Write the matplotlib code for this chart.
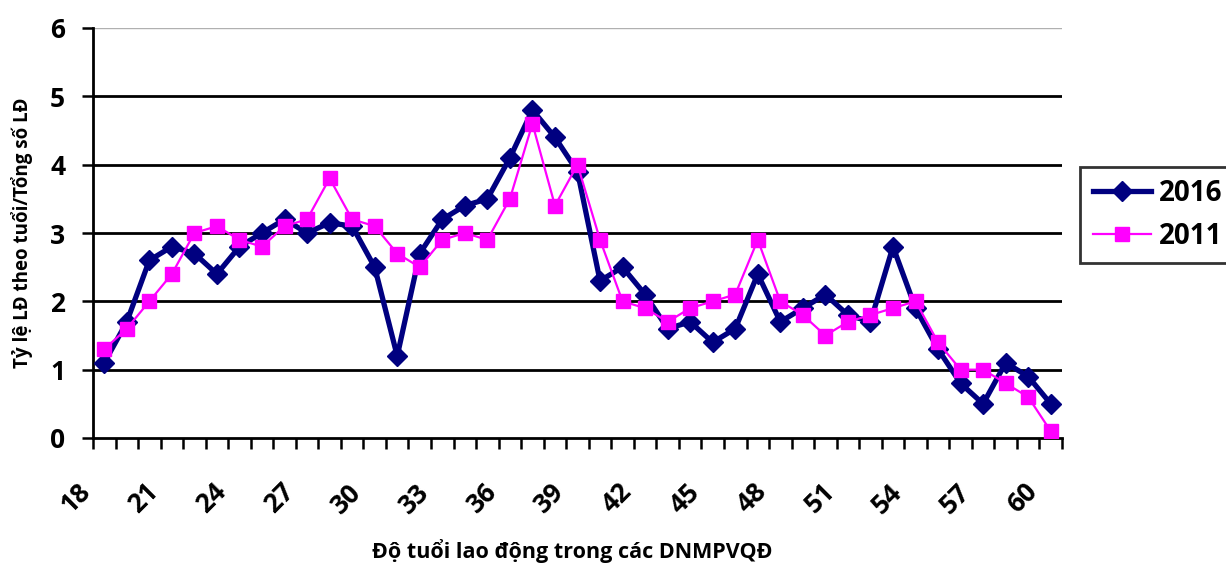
import matplotlib
matplotlib.use("Agg")
import matplotlib.pyplot as plt
import matplotlib.transforms as mtransforms
from matplotlib.ticker import FixedLocator, NullFormatter

# Ages of workers (categories) and share of workers per age (%)
ages = list(range(18, 61))
share_2016 = [1.1, 1.7, 2.6, 2.8, 2.7, 2.4, 2.8, 3.0, 3.2, 3.0,
              3.15, 3.1, 2.5, 1.2, 2.7, 3.2, 3.4, 3.5, 4.1, 4.8,
              4.4, 3.9, 2.3, 2.5, 2.1, 1.6, 1.7, 1.4, 1.6, 2.4,
              1.7, 1.9, 2.1, 1.8, 1.7, 2.8, 1.9, 1.3, 0.8, 0.5,
              1.1, 0.9, 0.5]
share_2011 = [1.3, 1.6, 2.0, 2.4, 3.0, 3.1, 2.9, 2.8, 3.1, 3.2,
              3.8, 3.2, 3.1, 2.7, 2.5, 2.9, 3.0, 2.9, 3.5, 4.6,
              3.4, 4.0, 2.9, 2.0, 1.9, 1.7, 1.9, 2.0, 2.1, 2.9,
              2.0, 1.8, 1.5, 1.7, 1.8, 1.9, 2.0, 1.4, 1.0, 1.0,
              0.8, 0.6, 0.1]
y_ticks = [0, 1, 2, 3, 4, 5, 6]
x_label_step = 3

FONT = ["Open Sans", "DejaVu Sans"]
plt.rcParams["font.family"] = FONT
plt.rcParams["font.weight"] = "bold"

W, H = 1226, 564
fig = plt.figure(figsize=(W / 100, H / 100), dpi=100)
ax = fig.add_axes([93 / W, 1 - 438 / H, (1062 - 93) / W, (438 - 28) / H])

x = list(range(len(ages)))

# horizontal gridlines
for v in y_ticks[1:-1]:
    ax.axhline(v, color="black", lw=2.0, zorder=1)
ax.axhline(y_ticks[-1], color="#b0b0b0", lw=1.0, zorder=1)

ax.plot(x, share_2016, color="#000080", lw=3.8, marker="D", markersize=10,
        markerfacecolor="#000080", markeredgecolor="#000080", label="2016", zorder=3)
ax.plot(x, share_2011, color="#FF00FF", lw=1.6, marker="s", markersize=10.5,
        markerfacecolor="#FF00FF", markeredgecolor="#FF00FF", label="2011", zorder=4)

ax.set_xlim(-0.5, len(ages) - 0.5)
ax.set_ylim(0, 6)

for side in ("top", "right"):
    ax.spines[side].set_visible(False)
for side in ("left", "bottom"):
    ax.spines[side].set_linewidth(2.0)
    ax.spines[side].set_color("black")

# y axis
ax.set_yticks(y_ticks)
ax.set_yticklabels([str(v) for v in y_ticks], fontsize=19, fontweight="bold")
ax.tick_params(axis="y", length=8, width=1.8, direction="out", pad=12)

# x axis: tick marks between categories, labels every third age
label_pos = x[::x_label_step]
ax.set_xticks(label_pos)
ax.set_xticklabels([str(ages[i]) for i in label_pos], fontsize=19, fontweight="bold",
                   rotation=45, ha="right", va="top", rotation_mode="anchor")
ax.tick_params(axis="x", which="major", length=0, pad=29)
shift = mtransforms.ScaledTranslation(-27 / 100, 0, fig.dpi_scale_trans)
for lbl in ax.get_xticklabels():
    lbl.set_transform(lbl.get_transform() + shift)
ax.xaxis.set_minor_locator(FixedLocator([i - 0.5 for i in range(len(ages) + 1)]))
ax.xaxis.set_minor_formatter(NullFormatter())
ax.tick_params(axis="x", which="minor", length=8, width=1.8, direction="out")

fig.text(572 / W, 1 - 551 / H, "Độ tuổi lao động trong các DNMPVQĐ",
         fontsize=15.5, fontweight="bold", ha="center", va="center")
fig.text(22 / W, 1 - 233 / H, "Tỷ lệ LĐ theo tuổi/Tổng số LĐ",
         fontsize=13.5, fontweight="bold", ha="center", va="center", rotation=90)

leg = fig.legend(loc="center left", bbox_to_anchor=(1080 / W, 1 - 215 / H),
                 prop={"size": 20, "weight": "bold", "family": FONT},
                 frameon=True, fancybox=False, handlelength=2.1, handletextpad=0.3,
                 borderpad=0.45, labelspacing=0.5, borderaxespad=0)
leg.get_frame().set_edgecolor("black")
leg.get_frame().set_linewidth(2.0)

fig.savefig("out.png", dpi=100)
